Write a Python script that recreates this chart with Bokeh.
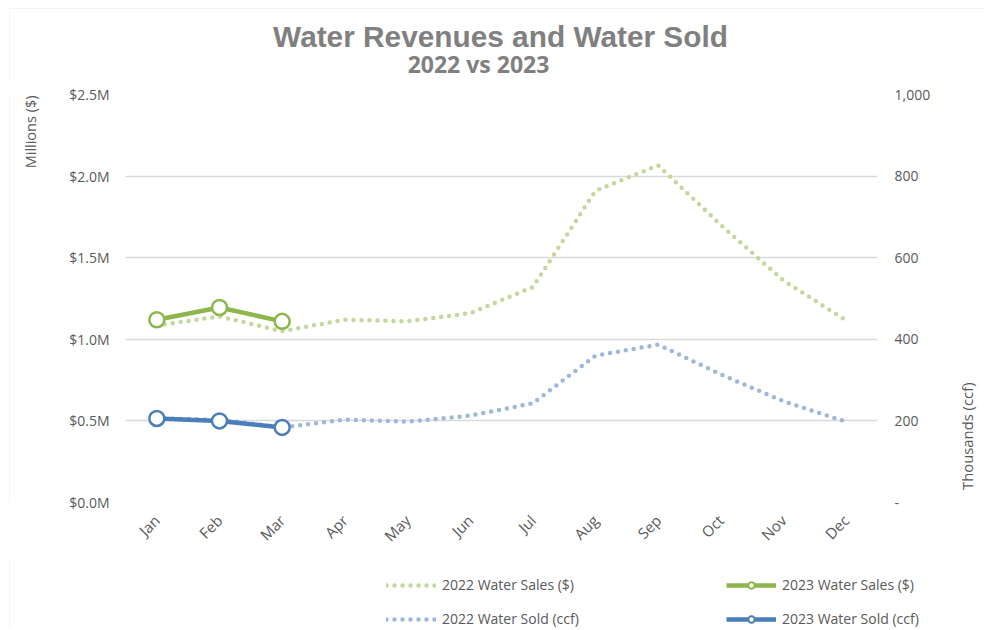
from math import pi
from bokeh.plotting import figure
from bokeh.layouts import column, row
from bokeh.models import (Range1d, LinearAxis, FixedTicker, PrintfTickFormatter,
                          NumeralTickFormatter, Legend, LegendItem, Label, BoxAnnotation,
                          ColumnDataSource, FactorRange)
from bokeh.embed import file_html
from bokeh.resources import INLINE

months = ["Jan", "Feb", "Mar", "Apr", "May", "Jun", "Jul", "Aug", "Sep", "Oct", "Nov", "Dec"]
sales_2022 = [1.085, 1.14, 1.05, 1.12, 1.11, 1.16, 1.32, 1.91, 2.065, 1.70, 1.36, 1.115]  # $M
sales_2023 = [1.12, 1.195, 1.11]
sold_2022 = [206, 203, 184, 203, 198, 213, 243, 360, 387, 314, 248, 198]  # thousands ccf
sold_2023 = [206, 200, 184]
left_ticks = [0, 0.5, 1.0, 1.5, 2.0, 2.5]
right_ticks = [0, 200, 400, 600, 800, 1000]
title_text = "Water Revenues and Water Sold"
subtitle_text = "2022 vs 2023"
left_title = "Millions ($)"
right_title = "Thousands (ccf)"
legend_labels = ["2022 Water Sales ($)", "2023 Water Sales ($)",
                 "2022 Water Sold (ccf)", "2023 Water Sold (ccf)"]

GREEN = "#8db64d"
GREEN_L = "#c4d89e"
BLUE = "#4a7ebb"
BLUE_L = "#9db8dc"
GRAY = "#595959"
TGRAY = "#808080"
BORDER = "#d9d9d9"
FONT = "Open Sans"

W = 986
H = 628


def blank(width, height, x0, x1, y0, y1):
    f = figure(width=width, height=height, x_range=Range1d(x0, x1), y_range=Range1d(y0, y1),
               x_axis_type=None, y_axis_type=None, output_backend="svg",
               toolbar_location=None, min_border=0, title=None)
    f.outline_line_color = None
    return f


# ---- top: titles (coordinates = page pixels)
top = blank(W, 80, 0, W, 80, 0)
top.add_layout(Label(x=500, y=36, text=title_text, text_align="center",
                     text_baseline="alphabetic", text_font="Liberation Sans",
                     text_font_style="bold", text_font_size="29.8px", text_color=TGRAY))
top.add_layout(Label(x=478, y=63, text=subtitle_text, text_align="center",
                     text_baseline="alphabetic", text_font=FONT,
                     text_font_style="bold", text_font_size="23px", text_color=TGRAY))
top.add_layout(BoxAnnotation(left=9, right=5000, top=8, bottom=5000, fill_alpha=0,
                             line_color=BORDER, line_width=1))

# ---- left: axis title
left = blank(50, 480, 0, 50, 560, 80)
left.add_layout(Label(x=30, y=124, angle=pi / 2, text=left_title, text_align="center",
                      text_baseline="middle", text_font=FONT, text_font_size="14.5px",
                      text_color=GRAY))
left.add_layout(BoxAnnotation(left=9, right=5000, top=-5000, bottom=5000, fill_alpha=0,
                              line_color=BORDER, line_width=1))

# ---- main plot
p = figure(width=895, height=480, x_range=FactorRange(*months, range_padding=0),
           y_range=Range1d(0, 2.5), output_backend="svg", toolbar_location=None,
           min_border_left=75, min_border_right=68, min_border_top=14, min_border_bottom=58)
p.extra_y_ranges = {"ccf": Range1d(0, 1000)}
p.outline_line_color = None
p.xgrid.grid_line_color = None
p.ygrid.grid_line_color = BORDER
p.ygrid.grid_line_width = 1.3

ax = p.yaxis[0]
ax.ticker = FixedTicker(ticks=left_ticks)
ax.formatter = PrintfTickFormatter(format="$%.1fM")
bx = p.xaxis[0]
bx.major_label_orientation = pi / 4
ry = LinearAxis(y_range_name="ccf", ticker=FixedTicker(ticks=right_ticks),
                formatter=NumeralTickFormatter(format="0,0"),
                major_label_overrides={0: "-"})
p.add_layout(ry, "right")
for a in [ax, bx, ry]:
    a.axis_line_color = None
    a.major_tick_line_color = None
    a.minor_tick_line_color = None
    a.major_tick_out = 0
    a.major_tick_in = 0
    a.minor_tick_out = 0
    a.major_label_text_color = GRAY
    a.major_label_text_font = FONT
    a.major_label_text_font_size = "14px"
bx.major_label_text_font_size = "15px"
ax.major_label_standoff = 16
ry.major_label_standoff = 17
bx.major_label_standoff = 15

src22 = ColumnDataSource(dict(m=months, s=sales_2022, w=sold_2022))
src23 = ColumnDataSource(dict(m=months[:3], s=sales_2023, w=sold_2023))

DOT = dict(line_width=4.5, line_dash="0 8", line_cap="round")
SOLID = dict(line_width=4.5, line_join="round")
MARK = dict(size=15, fill_color="white", line_width=2.5)

p.line("m", "s", source=src22, line_color=GREEN_L, **DOT)
p.line("m", "w", source=src22, line_color=BLUE_L, y_range_name="ccf", **DOT)
p.line("m", "s", source=src23, line_color=GREEN, **SOLID)
p.scatter("m", "s", source=src23, line_color=GREEN, **MARK)
p.line("m", "w", source=src23, line_color=BLUE, y_range_name="ccf", **SOLID)
p.scatter("m", "w", source=src23, line_color=BLUE, y_range_name="ccf", **MARK)

# ---- right: axis title
RW = W - 50 - 895
right = blank(RW, 480, 0, RW, 560, 80)
right.add_layout(Label(x=21, y=482, angle=pi / 2, text=right_title, text_align="center",
                       text_baseline="middle", text_font=FONT, text_font_size="14.8px",
                       text_color=GRAY))

# ---- bottom: legend (legend-only renderers, placeholder NaN point)
leg = blank(W, H - 560, 0, W, H, 560)
leg.add_layout(BoxAnnotation(left=9, right=5000, top=-5000, bottom=5000, fill_alpha=0,
                             line_color=BORDER, line_width=1))
nan = float("nan")
ph = ColumnDataSource(dict(x=[nan], y=[nan]))
r_s22 = leg.line("x", "y", source=ph, line_color=GREEN_L, **DOT)
r_s23 = leg.line("x", "y", source=ph, line_color=GREEN, **SOLID)
m_s23 = leg.scatter("x", "y", source=ph, line_color=GREEN, fill_color="white",
                    size=9, line_width=2)
r_w22 = leg.line("x", "y", source=ph, line_color=BLUE_L, **DOT)
r_w23 = leg.line("x", "y", source=ph, line_color=BLUE, **SOLID)
m_w23 = leg.scatter("x", "y", source=ph, line_color=BLUE, fill_color="white",
                    size=9, line_width=2)


def mk_legend(items, y):
    return Legend(items=items, location=(386, y), orientation="horizontal",
                  glyph_width=50, glyph_height=16, label_standoff=6, label_width=284,
                  spacing=0, padding=0, margin=0, border_line_color=None,
                  background_fill_alpha=0, label_text_font=FONT,
                  label_text_font_size="14px", label_text_color=GRAY)


leg.add_layout(mk_legend([LegendItem(label=legend_labels[0], renderers=[r_s22]),
                          LegendItem(label=legend_labels[1], renderers=[r_s23, m_s23])], 34))
leg.add_layout(mk_legend([LegendItem(label=legend_labels[2], renderers=[r_w22]),
                          LegendItem(label=legend_labels[3], renderers=[r_w23, m_w23])], 0))

layout = column(top, row(left, p, right), leg)
open("out.html", "w").write(file_html(layout, INLINE))
